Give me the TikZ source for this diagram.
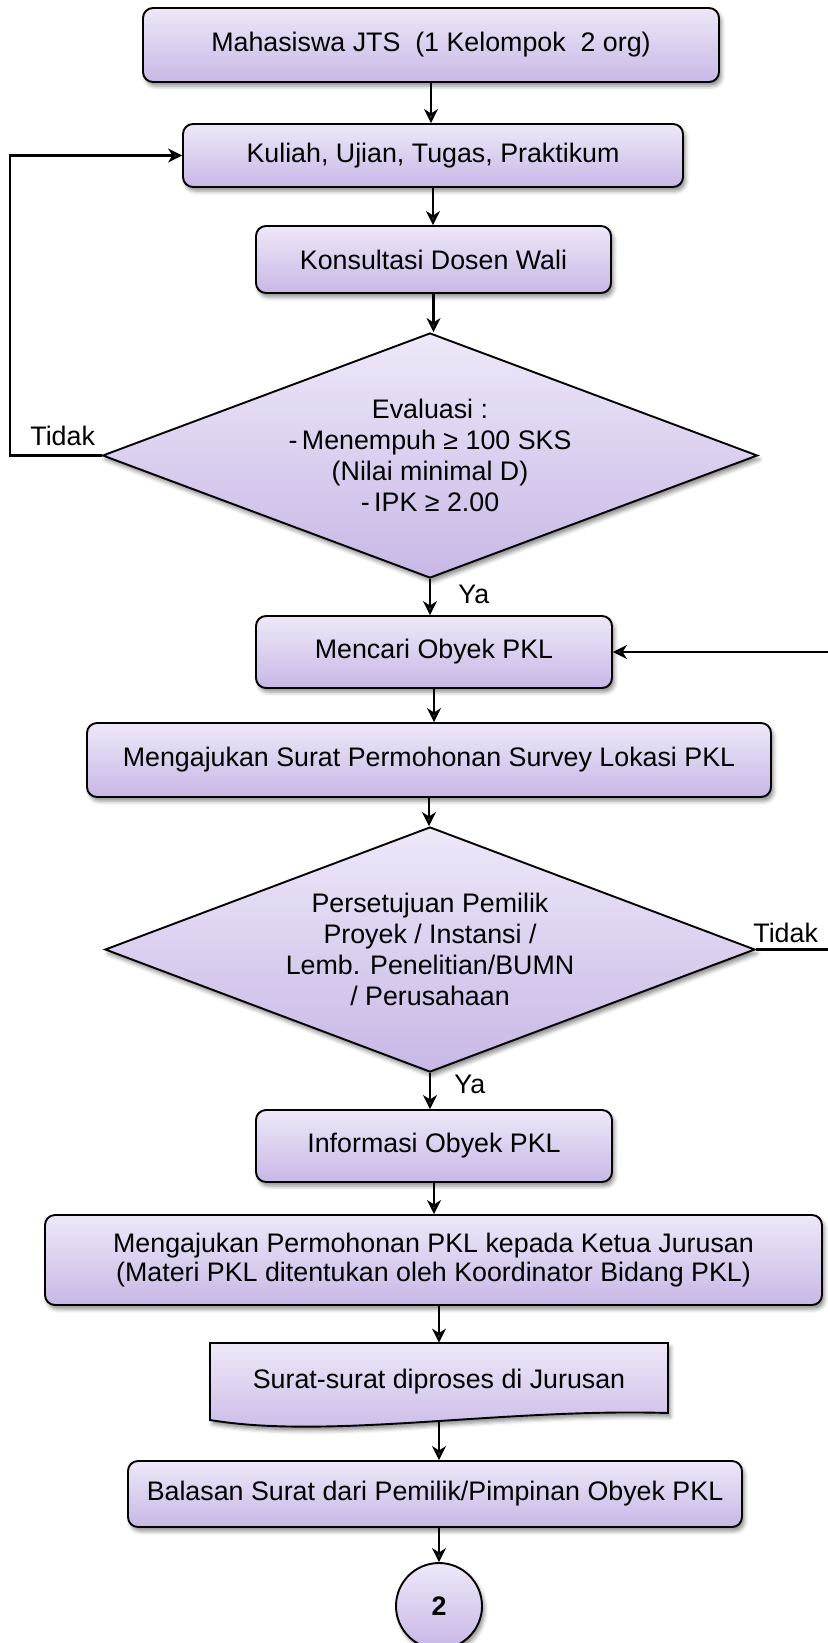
\documentclass[tikz,border=0pt]{standalone}
\usepackage{fontspec}
\setmainfont{Liberation Sans}
\usetikzlibrary{shapes.geometric,arrows.meta,shadows.blur}

\definecolor{lavtop}{RGB}{238,232,248}
\definecolor{lavbot}{RGB}{200,183,230}

\begin{document}
\begin{tikzpicture}[x=0.5pt, y=-0.5pt,
    font=\fontsize{13.4}{14.6}\selectfont,
    soft/.style={blur shadow={shadow xshift=1.2pt, shadow yshift=-2pt, shadow blur radius=2pt, shadow opacity=45}},
    box/.style={draw=black, line width=0.95pt, rounded corners=5pt, top color=lavtop, bottom color=lavbot, align=center, inner sep=0pt, soft},
    decision/.style={box, diamond, sharp corners, aspect=2.67, font=\fontsize{13.4}{15.5}\selectfont},
    flow/.style={line width=1.05pt, -{Stealth[length=7pt,width=7pt,inset=2.2pt]}},
    lbl/.style={inner sep=0pt}]
    \useasboundingbox (0,0) rectangle (827,1643);

    % Steps
    \node[box, minimum width=288pt, minimum height=37pt] (start) at (431,45) {Mahasiswa JTS\ \ (1 Kelompok\ \ 2 org)};
    \node[box, minimum width=250pt, minimum height=31.5pt] (lecture) at (433,155.5) {Kuliah, Ujian, Tugas, Praktikum};
    \node[box, minimum width=177.5pt, minimum height=33.5pt] (advisor) at (433.5,259.5) {Konsultasi Dosen Wali};
    \node[decision, minimum width=327.5pt, minimum height=122.5pt] (eval) at (430,455.5) {Evaluasi :\\-\,Menempuh ≥ 100 SKS\\(Nilai minimal D)\\-\,IPK ≥ 2.00};
    \node[box, minimum width=178pt, minimum height=36pt] (search) at (434,652) {Mencari Obyek PKL};
    \node[box, minimum width=342pt, minimum height=37pt] (survey) at (429,760) {Mengajukan Surat Permohonan Survey Lokasi PKL};
    \node[decision, minimum width=325pt, minimum height=122.5pt] (approve) at (430,949.5) {Persetujuan Pemilik\\Proyek / Instansi /\\Lemb. Penelitian/BUMN\\/ Perusahaan};
    \node[box, minimum width=178pt, minimum height=36pt] (info) at (434,1146) {Informasi Obyek PKL};
    \node[box, minimum width=388.5pt, minimum height=45pt] (proposal) at (433.5,1260) {Mengajukan Permohonan PKL kepada Ketua Jurusan\\(Materi PKL ditentukan oleh Koordinator Bidang PKL)};

    % Document shape
    \draw[line width=0.95pt, top color=lavtop, bottom color=lavbot, soft] (210,1343) -- (668,1343) -- (668,1413)
        .. controls (500,1408) and (330,1440) .. (210,1420) -- cycle;
    \node[lbl, minimum width=229pt, minimum height=38.5pt] (letters) at (439,1381.5) {Surat-surat diproses di Jurusan};

    \node[box, minimum width=307pt, minimum height=33pt] (reply) at (435,1494) {Balasan Surat dari Pemilik/Pimpinan Obyek PKL};
    \node[box, circle, minimum size=43pt, font=\fontsize{13.4}{14.6}\selectfont\bfseries] (next) at (439,1606) {2};

    % Connectors
    \draw[flow] (start.south) -- (start.south |- lecture.north);
    \draw[flow] (lecture.south) -- (lecture.south |- advisor.north);
    \draw[flow] (advisor.south) -- (advisor.south |- eval.north);
    \draw[flow] (eval.south) -- (eval.south |- search.north);
    \draw[flow] (search.south) -- (search.south |- survey.north);
    \draw[flow] (survey.south) -- (survey.south |- approve.north);
    \draw[flow] (approve.south) -- (approve.south |- info.north);
    \draw[flow] (info.south) -- (info.south |- proposal.north);
    \draw[flow] (letters.north |- proposal.south) -- (letters.north);
    \draw[flow] (letters.south) -- (letters.south |- reply.north);
    \draw[flow] (next.north |- reply.south) -- (next.north);

    % Loops back
    \coordinate (leftturn) at (10,0);
    \coordinate (rightturn) at (845,0);
    \draw[flow] (eval.west) -- (eval.west -| leftturn) |- (lecture.west);
    \draw[flow] (approve.east) -- (approve.east -| rightturn) |- (search.east);

    % Labels
    \node[lbl, anchor=base west] (yes1) at (458,603) {Ya};
    \node[lbl, anchor=base west] (yes2) at (454,1093) {Ya};
    \node[lbl, anchor=base west] (no1) at (30,445) {Tidak};
    \node[lbl, anchor=base west] (no2) at (753,942) {Tidak};
\end{tikzpicture}
\end{document}
